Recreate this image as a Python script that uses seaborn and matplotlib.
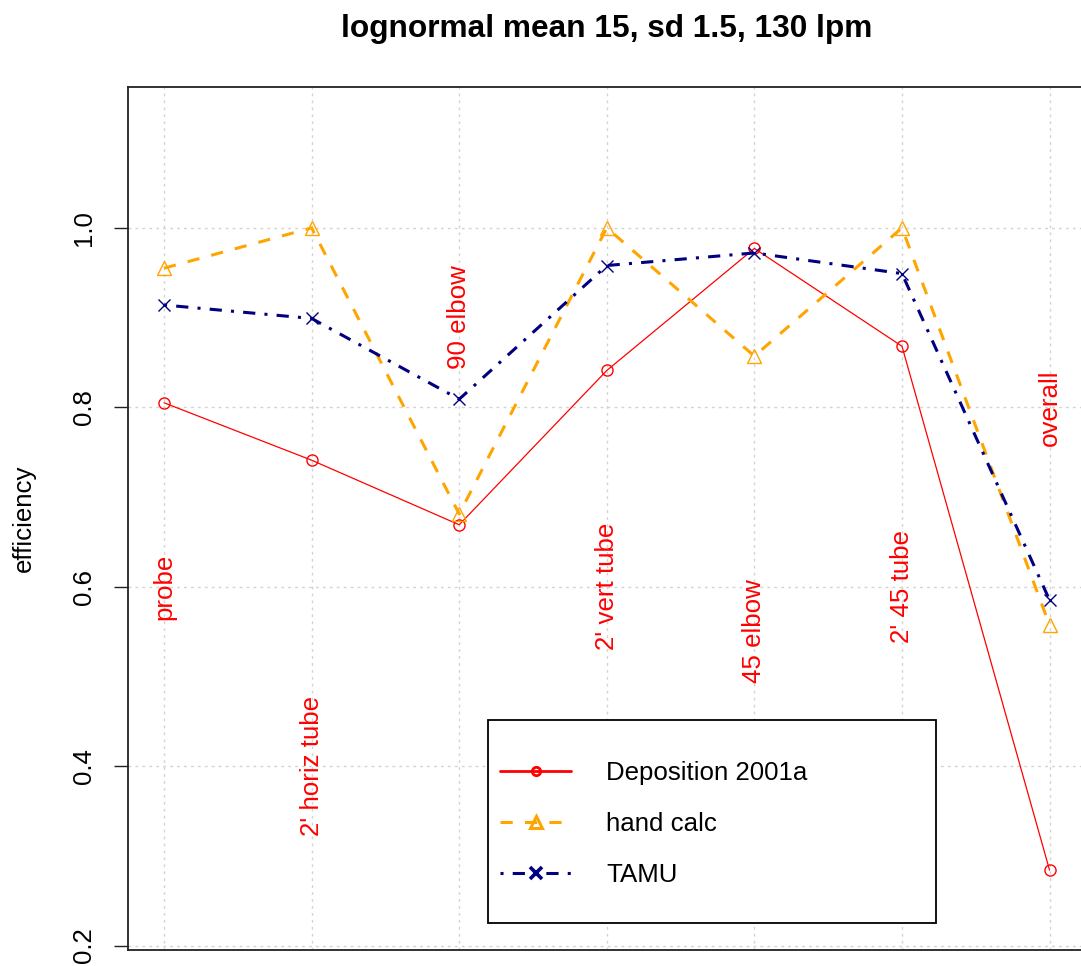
import matplotlib
matplotlib.use("Agg")
import matplotlib.pyplot as plt
from matplotlib.lines import Line2D
from matplotlib.patches import Rectangle
import numpy as np
import pandas as pd
import seaborn as sns

# Component names along the sampling line and where their labels sit
categories = ["probe", "2' horiz tube", "90 elbow", "2' vert tube",
              "45 elbow", "2' 45 tube", "overall"]
label_y = [0.6, 0.4, 0.9, 0.6, 0.55, 0.6, 0.8]

# Efficiency per component for each model
deposition_2001a = [0.805, 0.741, 0.669, 0.841, 0.977, 0.868, 0.284]
hand_calc = [0.955, 1.0, 0.681, 1.0, 0.857, 1.0, 0.557]
tamu = [0.914, 0.899, 0.809, 0.958, 0.972, 0.949, 0.585]

y_ticks = [0.2, 0.4, 0.6, 0.8, 1.0]

sns.set_style("white")
plt.rcParams["font.family"] = ["Liberation Sans", "DejaVu Sans"]
plt.rcParams["text.color"] = "black"
plt.rcParams["axes.labelcolor"] = "black"
plt.rcParams["ytick.color"] = "black"

BASE = 18.6
W, H = 1081, 966

fig = plt.figure(figsize=(W / 100, H / 100), dpi=100)
ax = fig.add_axes([128 / W, 16 / H, (1085 - 128) / W, (950 - 87) / H])

pos = np.arange(1, len(categories) + 1)
df = pd.DataFrame({
    "pos": pos,
    "Deposition 2001a": deposition_2001a,
    "hand calc": hand_calc,
    "TAMU": tamu,
})

series = [
    dict(name="Deposition 2001a", color="#FF0000", lw=0.9, ls="-", marker="o",
         ms=8, mew=1.0, leg_lw=2.0, leg_ms=6, leg_mew=2.0),
    dict(name="hand calc", color="#FFA500", lw=2.2, ls=(0, (4, 4)), marker="^",
         ms=10.5, mew=1.0, leg_lw=2.2, leg_ms=9, leg_mew=2.2),
    dict(name="TAMU", color="#000080", lw=2.2, ls=(0, (1, 3, 4, 3)), marker="x",
         ms=9, mew=1.0, leg_lw=2.2, leg_ms=9, leg_mew=2.6),
]

for s in series:
    sns.lineplot(data=df, x="pos", y=s["name"], ax=ax, color=s["color"],
                 linewidth=s["lw"], linestyle=s["ls"], marker=s["marker"],
                 markersize=s["ms"], markerfacecolor="none",
                 markeredgecolor=s["color"], markeredgewidth=s["mew"],
                 errorbar=None, zorder=3)

# Component labels written vertically over each position
for x, name, y in zip(pos, categories, label_y):
    ax.text(x, y, name, rotation=90, ha="center", va="center",
            color="#FF0000", fontsize=BASE, zorder=4)

ax.set_xlim(0.756, 7.24)
ax.set_ylim(0.195, 1.157)
ax.set_xticks(pos)
ax.set_xticklabels([])
ax.set_yticks(y_ticks)
ax.set_yticklabels([f"{v:.1f}" for v in y_ticks], rotation=90, va="center",
                   fontsize=BASE, color="black")
ax.tick_params(axis="x", length=0)
ax.tick_params(axis="y", length=10, width=1.0, pad=13, color="#222222",
               left=True)
ax.grid(True, color="#D3D3D3", linestyle=(0, (2, 3)), linewidth=1.0)
ax.set_axisbelow(True)

for side in ["left", "bottom", "top", "right"]:
    ax.spines[side].set_visible(True)
    ax.spines[side].set_color("#222222")
    ax.spines[side].set_linewidth(1.3)

ax.set_xlabel("")
ax.set_ylabel("efficiency", fontsize=BASE, color="black")
ax.yaxis.set_label_coords((36 - 128) / 957, 0.5)
ax.set_title("lognormal mean 15, sd 1.5, 130 lpm", fontsize=22.8,
             fontweight="bold", pad=36, color="black")

# Legend box, then the entries inside it
fig.patches.append(Rectangle((488 / W, 1 - 923 / H), 448 / W, 203 / H,
                             transform=fig.transFigure, facecolor="white",
                             edgecolor="black", linewidth=1.3, zorder=9))
handles = [
    Line2D([], [], color=s["color"], linewidth=s["leg_lw"], linestyle=s["ls"],
           marker=s["marker"], markersize=s["leg_ms"], markerfacecolor="none",
           markeredgecolor=s["color"], markeredgewidth=s["leg_mew"])
    for s in series
]
leg = fig.legend(handles, [s["name"] for s in series],
                 loc="upper left",
                 bbox_to_anchor=(500 / W, 1 - 761 / H),
                 fontsize=BASE, frameon=False, borderpad=0.0,
                 labelspacing=1.04, handlelength=2.75, handletextpad=1.35,
                 borderaxespad=0.0)
for t in leg.get_texts():
    t.set_color("black")
leg.set_zorder(10)

fig.savefig("out.png", dpi=100)
